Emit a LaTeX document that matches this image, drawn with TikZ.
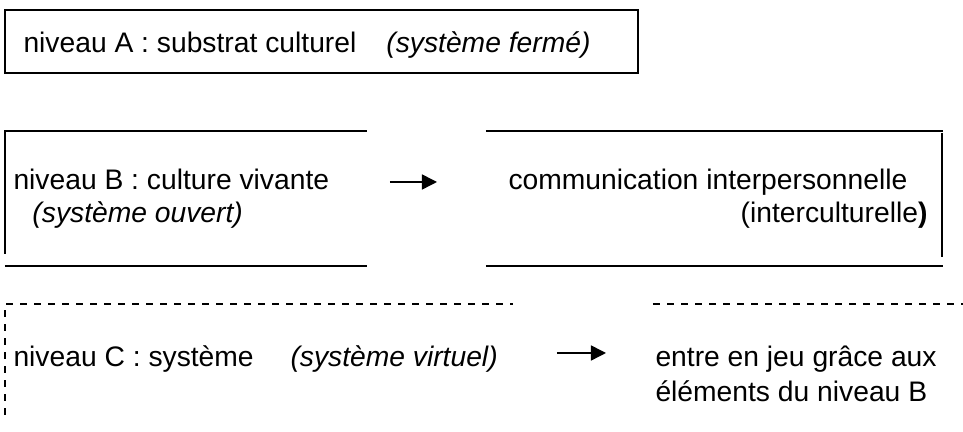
\documentclass[tikz,border=0pt]{standalone}
\usepackage{fontspec}
\setmainfont{Liberation Sans}
\usetikzlibrary{arrows.meta}
\tikzset{
  lvltext/.style={anchor=base west, inner sep=0pt, font=\fontsize{11.3}{13.5}\selectfont},
  frameline/.style={line width=0.6pt},
  dashline/.style={line width=0.6pt, dash pattern=on 2.8pt off 2.8pt},
  flow/.style={line width=0.6pt, -{Triangle[length=6pt,width=6pt]}}
}
\begin{document}
\begin{tikzpicture}[x=0.4pt, y=-0.4pt]
    \useasboundingbox (0,0) rectangle (963,432);
    % Level A: closed frame
    \draw[frameline] (5,10) rectangle (638,73);
    \node[lvltext] (lvlA) at (23,53) {niveau A : substrat culturel\hspace{12pt}\textit{(système fermé)}};
    % Level B: two open frames, arrow between
    \draw[frameline] (367,131) -- (5,131) -- (5,254);
    \draw[frameline] (5,266) -- (367,266);
    \draw[frameline] (486,131) -- (943,131); \draw[frameline] (942,133) -- (942,257);
    \draw[frameline] (486,266) -- (943,266);
    \node[lvltext] (lvlB) at (13,190) {niveau B : culture vivante};
    \node[lvltext] (lvlBsys) at (32,223) {\textit{(système ouvert)}};
    \node[lvltext] (comm) at (508,190) {communication interpersonnelle};
    \node[lvltext, anchor=base east] (inter) at (928,223) {(interculturelle\textbf{)}};
    \coordinate (bS) at (390,182); \coordinate (bE) at (437,182);
    \draw[flow] (bS) -- (bE);
    % Level C: dashed frames
    \draw[dashline] (5,415) -- (5,304) -- (513,304);
    \draw[dashline] (653,304) -- (963,304);
    \node[lvltext] (lvlC) at (13,367) {niveau C : système};
    \node[lvltext] (lvlCsys) at (290,367) {\textit{(système virtuel)}};
    \node[lvltext] (jeu) at (655,367) {entre en jeu grâce aux};
    \node[lvltext] (elem) at (655,402) {éléments du niveau B};
    \coordinate (cS) at (557,353); \coordinate (cE) at (606,353);
    \draw[flow] (cS) -- (cE);
\end{tikzpicture}
\end{document}
